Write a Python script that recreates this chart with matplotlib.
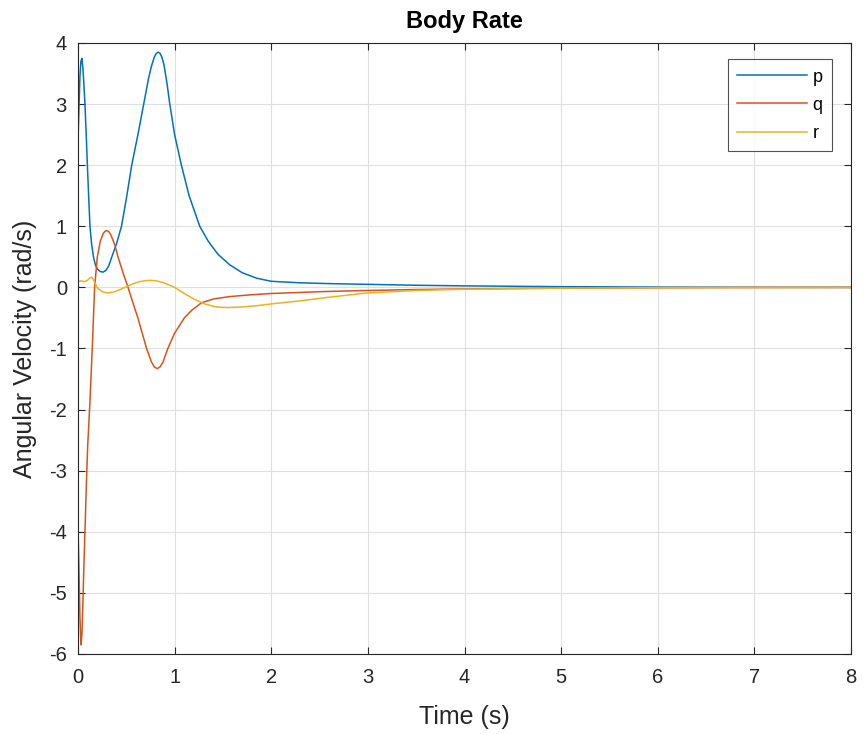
import matplotlib
matplotlib.use("Agg")
import matplotlib.pyplot as plt

plt.rcParams['font.family'] = ['Liberation Sans', 'DejaVu Sans']
plt.rcParams['axes.unicode_minus'] = False

# time samples and series values
t_p = [0, 0.01, 0.02, 0.03, 0.04, 0.05, 0.06, 0.072, 0.085, 0.097, 0.11, 0.124, 0.14, 0.16,
       0.18, 0.20, 0.23, 0.26, 0.29, 0.32, 0.35, 0.40, 0.45, 0.50, 0.556, 0.62, 0.68, 0.73,
       0.76, 0.79, 0.81, 0.83, 0.85, 0.87, 0.89, 0.92, 0.95, 1.0, 1.07, 1.15, 1.26, 1.35,
       1.45, 1.57, 1.70, 1.85, 2.0, 2.3, 2.6, 3.0, 3.5, 4.0, 5.0, 6.0, 7.0, 8.0]
p = [2.4, 2.95, 3.45, 3.7, 3.75, 3.6, 3.35, 3.0, 2.5, 2.0, 1.5, 1.0, 0.72, 0.5,
     0.37, 0.3, 0.26, 0.25, 0.28, 0.36, 0.5, 0.72, 1.0, 1.45, 2.0, 2.5, 3.0, 3.42,
     3.62, 3.77, 3.83, 3.85, 3.83, 3.76, 3.64, 3.35, 3.0, 2.5, 2.0, 1.5, 1.0, 0.75,
     0.54, 0.37, 0.24, 0.15, 0.1, 0.075, 0.062, 0.05, 0.035, 0.025, 0.012, 0.005, 0.002, 0.0]

t_q = [0, 0.01, 0.02, 0.03, 0.04, 0.05, 0.06, 0.072, 0.085, 0.10, 0.124, 0.15, 0.172, 0.20,
       0.23, 0.26, 0.28, 0.30, 0.32, 0.34, 0.38, 0.414, 0.47, 0.518, 0.57, 0.62, 0.67, 0.71,
       0.76, 0.79, 0.82, 0.85, 0.88, 0.93, 1.0, 1.10, 1.18, 1.28, 1.4, 1.57, 1.8, 2.0, 2.5,
       3.0, 3.5, 4.0, 5.0, 6.0, 7.0, 8.0]
q = [-3.9, -4.6, -5.4, -5.85, -5.7, -5.2, -4.6, -4.0, -3.3, -2.6, -1.86, -0.9, 0.0, 0.5,
     0.75, 0.88, 0.92, 0.93, 0.91, 0.86, 0.7, 0.5, 0.22, 0.0, -0.26, -0.5, -0.78, -1.0,
     -1.22, -1.30, -1.33, -1.30, -1.22, -1.0, -0.75, -0.5, -0.37, -0.25, -0.19, -0.15,
     -0.12, -0.1, -0.07, -0.05, -0.035, -0.025, -0.012, -0.006, -0.002, 0.0]

t_r = [0, 0.015, 0.03, 0.045, 0.06, 0.08, 0.10, 0.12, 0.138, 0.155, 0.17, 0.2, 0.25, 0.30,
       0.36, 0.43, 0.50, 0.57, 0.64, 0.70, 0.74, 0.80, 0.88, 0.96, 1.0, 1.1, 1.2, 1.31, 1.43,
       1.55, 1.7, 1.85, 2.0, 2.3, 2.6, 3.0, 3.5, 4.0, 5.0, 6.0, 7.0, 8.0]
r = [0.087, 0.1, 0.11, 0.1, 0.095, 0.1, 0.12, 0.15, 0.17, 0.14, 0.09, -0.01, -0.07, -0.09,
     -0.08, -0.04, 0.01, 0.06, 0.095, 0.11, 0.115, 0.11, 0.08, 0.03, 0.0, -0.1, -0.19, -0.27,
     -0.32, -0.33, -0.32, -0.3, -0.27, -0.22, -0.16, -0.09, -0.05, -0.03, -0.012, -0.005,
     -0.002, 0.0]

series_names = ['p', 'q', 'r']
colors = ['#0072BD', '#D95319', '#EDB120']

fig = plt.figure(figsize=(8.64, 7.34), dpi=100)
ax = fig.add_axes([78/864, 1 - 654/734, (851 - 78)/864, (654 - 43)/734])

ax.plot(t_p, p, color=colors[0], lw=1.1, label=series_names[0])
ax.plot(t_q, q, color=colors[1], lw=1.1, label=series_names[1])
ax.plot(t_r, r, color=colors[2], lw=1.1, label=series_names[2])

ax.set_xlim(0, 8)
ax.set_ylim(-6, 4)
ax.set_xticks(range(0, 9))
ax.set_yticks(range(-6, 5))
ax.grid(True, color='#dfdfdf', lw=0.8)
ax.set_axisbelow(True)
ax.tick_params(direction='in', length=5, labelsize=14.5, colors='#262626', top=True, right=True,
               labeltop=False, labelright=False)
ax.tick_params(axis='x', pad=10)
ax.tick_params(axis='y', pad=8)
for s in ax.spines.values():
    s.set_color('#262626')
    s.set_linewidth(0.8)

ax.set_xlabel('Time (s)', fontsize=18, color='#262626', labelpad=13)
ax.set_ylabel('Angular Velocity (rad/s)', fontsize=18, color='#262626', labelpad=9)
ax.set_title('Body Rate', fontsize=17, fontweight='bold', color='black', pad=11)

leg = ax.legend(loc='upper right', bbox_to_anchor=(0.975, 0.973), fontsize=13, frameon=True,
                fancybox=False, edgecolor='#262626', handlelength=3.9, borderpad=0.5,
                labelspacing=0.62, handletextpad=0.3, borderaxespad=0)
leg.get_frame().set_linewidth(0.8)

fig.savefig('out.png', dpi=100)
